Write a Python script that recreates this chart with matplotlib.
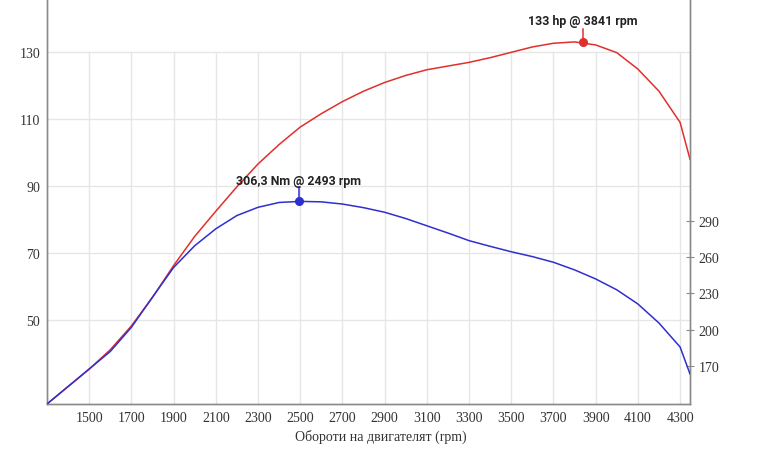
import matplotlib.pyplot as plt

# engine speed (rpm) and curves
rpm = [1300, 1400, 1500, 1600, 1700, 1800, 1900, 2000, 2100, 2200, 2300,
       2400, 2500, 2600, 2700, 2800, 2900, 3000, 3100, 3200, 3300, 3400,
       3500, 3600, 3700, 3800, 3900, 4000, 4100, 4200, 4300, 4347]
power_hp = [25.0, 30.2, 35.4, 41.2, 48.3, 56.8, 66.3, 75.0, 82.5, 89.8, 96.6,
            102.4, 107.6, 111.6, 115.2, 118.3, 120.9, 123.0, 124.7, 125.8, 126.9, 128.3,
            129.9, 131.5, 132.6, 133.0, 132.1, 129.8, 124.9, 118.3, 109.0, 98.0]
torque_nm = [138.5, 153.0, 167.5, 182.0, 202.0, 227.0, 251.5, 269.5, 283.5, 294.5, 301.3,
             305.3, 306.2, 305.8, 304.0, 301.0, 297.2, 292.0, 286.0, 280.0, 273.7, 269.0,
             264.5, 260.5, 255.8, 249.5, 242.0, 233.0, 221.3, 205.5, 185.7, 163.4]

peak_hp = (3841, 133)
peak_nm = (2493, 306.3)

x_ticks = list(range(1500, 4301, 200))
hp_ticks = [50, 70, 90, 110, 130]
nm_ticks = [170, 200, 230, 260, 290]

RED = "#e0302e"
BLUE = "#2f2fd0"
SPINE = "#8a8a8a"
GRID = "#e6e6e6"

fig = plt.figure(figsize=(7.62, 4.56), dpi=100)
ax = fig.add_axes([47 / 762, 51 / 456, (690 - 47) / 762, 405 / 456])
ax2 = ax.twinx()

ax.set_xlim(1300, 4347)
ax.set_ylim(25, 145.8)
ax2.set_ylim(138.5, 473.7)

# grid: horizontal lines over full width, vertical ones up to 130
for y in hp_ticks:
    ax.axhline(y, color=GRID, lw=1.0, zorder=0)
ax.vlines(x_ticks, 25, 130, color=GRID, lw=1.0, zorder=0)

ax.plot(rpm, power_hp, color=RED, lw=1.1, zorder=3, solid_joinstyle="round")
ax2.plot(rpm, torque_nm, color=BLUE, lw=1.1, zorder=3, solid_joinstyle="round")

# peak markers with labels
ax.plot([peak_hp[0], peak_hp[0]], [peak_hp[1], 136.9], color=RED, lw=1.1)
ax.plot(*peak_hp, "o", color=RED, ms=5.5, zorder=4)
ax.text(peak_hp[0], 139.3, f"{peak_hp[1]} hp @ {peak_hp[0]} rpm", ha="center", va="center",
        fontsize=8.9, fontweight="bold", family="Roboto", color="#222222")

ax2.plot([peak_nm[0], peak_nm[0]], [peak_nm[1], 318.0], color=BLUE, lw=1.1)
ax2.plot(*peak_nm, "o", color=BLUE, ms=5.5, zorder=4)
ax2.text(peak_nm[0], 323.5, f"{str(peak_nm[1]).replace('.', ',')} Nm @ {peak_nm[0]} rpm",
         ha="center", va="center", fontsize=8.9, fontweight="bold", family="Roboto",
         color="#222222")

for a in (ax, ax2):
    a.spines["top"].set_visible(False)
    for s in ("left", "right", "bottom"):
        a.spines[s].set_color(SPINE)
        a.spines[s].set_linewidth(1.0)

ax.set_xticks(x_ticks)
ax.set_yticks(hp_ticks)
ax2.set_yticks(nm_ticks)
ax.tick_params(axis="x", length=0, pad=5, labelsize=10, labelcolor="#333333")
ax.tick_params(axis="y", length=0, pad=5, labelsize=10, labelcolor="#333333")
ax2.tick_params(axis="y", direction="inout", length=6, color=SPINE, pad=3,
                labelsize=10, labelcolor="#333333")
for lab in ax.get_xticklabels() + ax.get_yticklabels() + ax2.get_yticklabels():
    lab.set_family("Liberation Serif")

fig.text(381 / 762, 1 - 437 / 456, "Обороти на двигателят (rpm)", ha="center", va="center",
         fontsize=10, family="Liberation Serif", color="#333333")

fig.savefig("out.png", dpi=100)
